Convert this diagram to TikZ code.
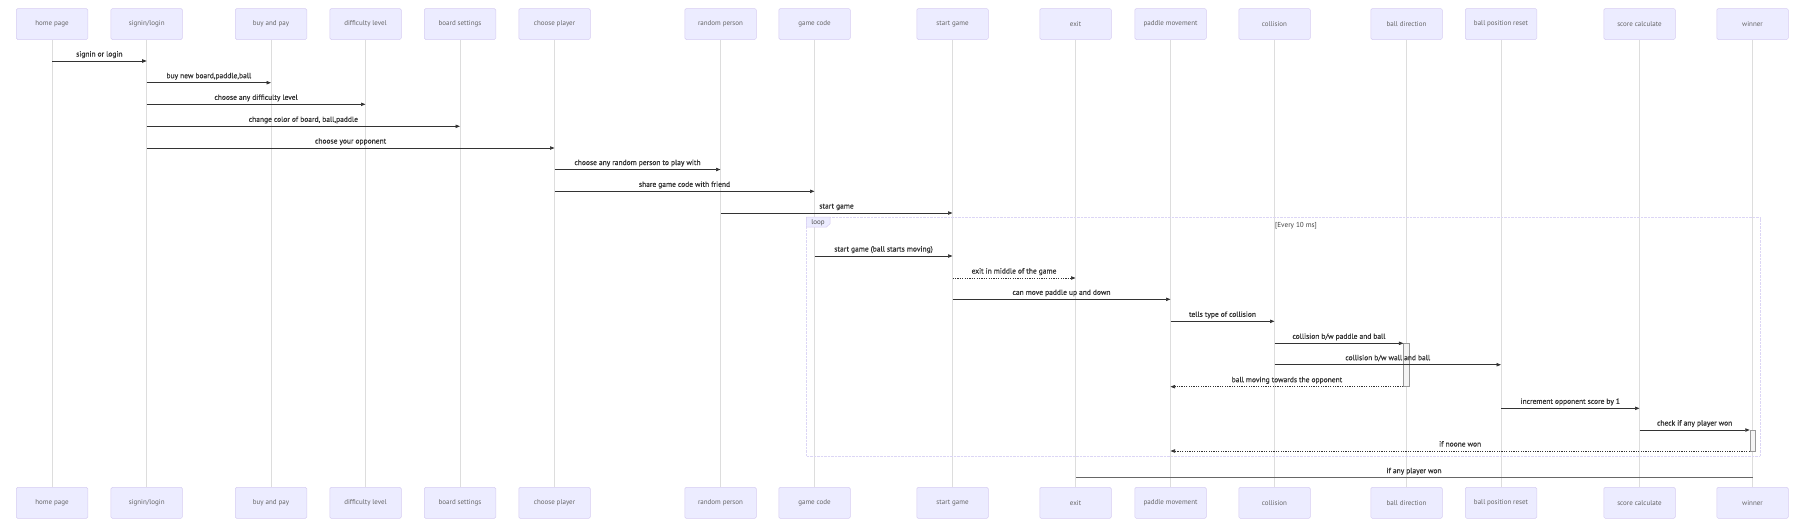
\documentclass[tikz,border=0pt]{standalone}
\usepackage{fontspec}
\setmainfont{PT Sans}
\newfontfamily\msgfont[FakeBold=0.45]{PT Sans}
\usetikzlibrary{arrows.meta}
\definecolor{actfill}{HTML}{ECECFF}
\definecolor{actborder}{HTML}{D6CCF2}
\definecolor{loopcol}{HTML}{DCD6F5}
\definecolor{msgcol}{HTML}{333333}
\definecolor{lifecol}{HTML}{DDDDDD}
\definecolor{actvfill}{HTML}{F4F4F4}
\newcommand\seqmsg[5]{%
  \draw[#1] (#2 |- 0,#4) -- node[mlabel] {#5} (#3 |- 0,#4);}
\begin{document}
\begin{tikzpicture}[x=1pt,y=-1pt,
  actorbox/.style={draw=actborder, fill=actfill, line width=0.5pt, rounded corners=1.4pt,
    minimum width=71.5pt, minimum height=31pt, inner sep=0pt,
    font=\fontsize{7}{8}\selectfont, text=black!60},
  lifeline/.style={draw=lifecol, line width=0.6pt},
  msg/.style={draw=msgcol, line width=0.7pt, -{Triangle[length=4.5pt,width=3.4pt]}},
  dmsg/.style={msg, line width=0.6pt, dash pattern=on 1.2pt off 1.2pt},
  plainmsg/.style={draw=black!60, line width=0.9pt},
  mlabel/.style={anchor=base, yshift=4.5pt, font=\msgfont\fontsize{7.5}{9}\selectfont, text=msgcol, inner sep=0pt},
  loopframe/.style={draw=loopcol, line width=0.7pt, dash pattern=on 0.7pt off 0.7pt, inner sep=0pt},
  actv/.style={draw=black!40, fill=actvfill, line width=0.5pt, inner sep=0pt},
  ]
\useasboundingbox (0,0) rectangle (1797,528);
% actors: name, x, label
\foreach \n/\x/\t in {hp/52/home page, sl/146.7/signin\slash login, bp/271/buy and pay,
  dl/365.5/difficulty level, bs/460/board settings, cp/554.5/choose player,
  rp/720.5/random person, gc/814.5/game code, sg/952.5/start game, ex/1075.5/exit,
  pm/1170.5/paddle movement, co/1274.5/collision, bd/1406.5/ball direction,
  br/1501/ball position reset, sc/1639.5/score calculate, wi/1752.5/winner}{
  \node[actorbox] (\n T) at (\x,24) {\t};
  \node[actorbox] (\n B) at (\x,502.8) {\t};
  \draw[lifeline] (\n T.south) -- (\n B.north);
}
% loop frame
\node[loopframe, minimum width=953.3pt, minimum height=238.5pt] (loop) at (1283.35,336.75) {};
\draw[fill=actfill, draw=actborder, line width=0.5pt] (loop.north west) -- ++(23.7,0) -- ++(0,6.5) -- ++(-3.7,3.5) -- ++(-20,0) -- cycle;
\node[font=\fontsize{7}{8}\selectfont, text=black!70, inner sep=0pt] (looplabel) at (818,222.6) {loop};
\node[font=\fontsize{7.2}{8}\selectfont, text=black!75, inner sep=0pt] (loopcond) at (1296,225.5) {[Every 10 ms]};
% activations
\node[actv, minimum width=5.6pt, minimum height=43.4pt] (bdA) at (1406.5,365) {};
\node[actv, minimum width=5.5pt, minimum height=21.7pt] (wiA) at (1752.75,440.85) {};
% messages
\seqmsg{msg}{hpT}{slT}{61}{signin or login}
\seqmsg{msg}{slT}{bpT}{82.7}{buy new board,paddle,ball}
\seqmsg{msg}{slT}{dlT}{104.3}{choose any difficulty level}
\seqmsg{msg}{slT}{bsT}{126.3}{change color of board, ball,paddle}
\seqmsg{msg}{slT}{cpT}{148}{choose your opponent}
\seqmsg{msg}{cpT}{rpT}{169.5}{choose any random person to play with}
\seqmsg{msg}{cpT}{gcT}{191.3}{share game code with friend}
\seqmsg{msg}{rpT}{sgT}{213}{start game}
\seqmsg{msg}{gcT}{sgT}{256}{start game (ball starts moving)}
\seqmsg{dmsg}{sgT}{exT}{278}{exit in middle of the game}
\seqmsg{msg}{sgT}{pmT}{299.3}{can move paddle up and down}
\seqmsg{msg}{pmT}{coT}{321.3}{tells type of collision}
\seqmsg{msg}{coT}{bdA.west}{343.3}{collision b/w paddle and ball}
\seqmsg{msg}{coT}{brT}{364.7}{collision b/w wall and ball}
\seqmsg{dmsg}{bdA.west}{pmT}{386.7}{ball moving towards the opponent}
\seqmsg{msg}{brT}{scT}{408.3}{increment opponent score by 1}
\seqmsg{msg}{scT}{wiA.west}{430}{check if any player won}
\seqmsg{dmsg}{wiA.west}{pmT}{451}{if noone won}
\seqmsg{plainmsg}{wiT}{exT}{477.7}{if any player won}
\end{tikzpicture}
\end{document}
